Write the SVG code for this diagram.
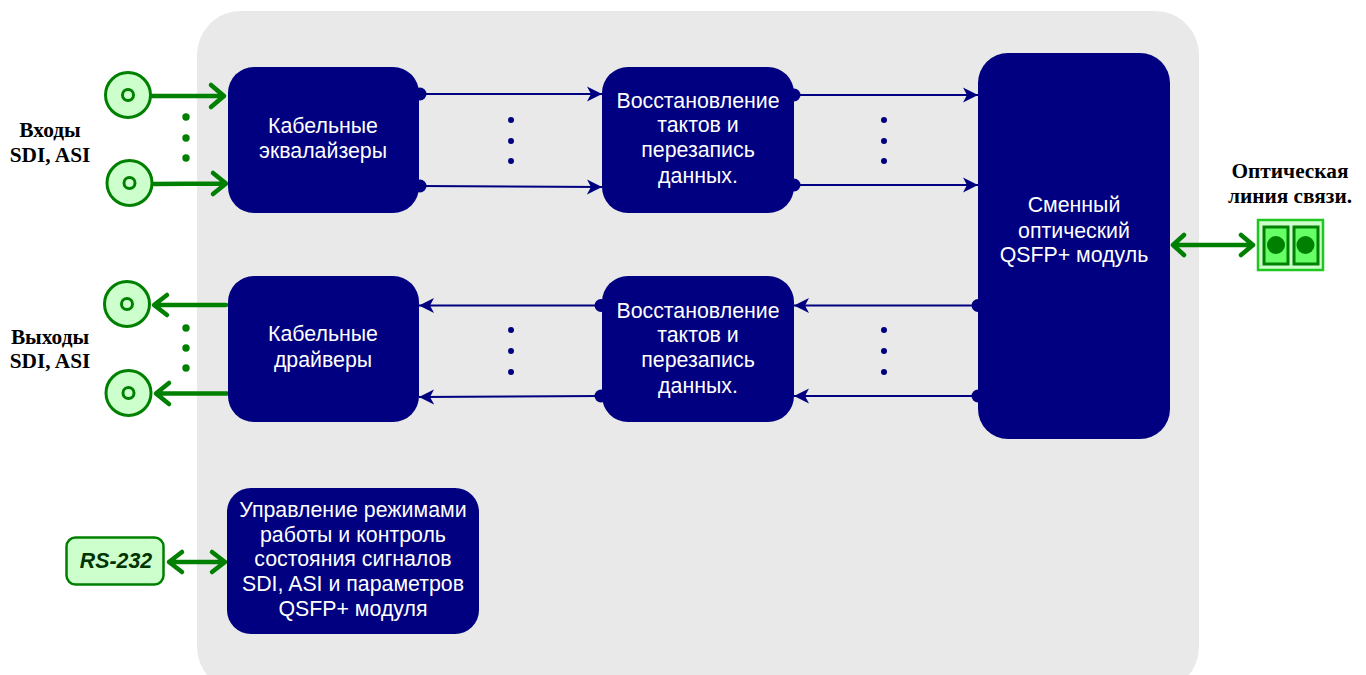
<svg xmlns="http://www.w3.org/2000/svg" width="1366" height="675" viewBox="0 0 1366 675">
<style>
.blk{fill:#000080}
.t{font:21.33px "Liberation Sans",Arial,sans-serif;fill:#fff;text-anchor:middle}
.lab{font:bold 21.33px "Liberation Serif","Times New Roman",serif;fill:#000;text-anchor:middle}
.b{stroke:#000080;stroke-width:2.2;fill:none;marker-end:url(#bh)}
.g{stroke:#008000;stroke-width:4.5;fill:none;stroke-linecap:round;stroke-linejoin:round}
.port{fill:#ccffcc;stroke:#008000;stroke-width:3}
.hole{fill:#ccffcc;stroke:#008000;stroke-width:3}
.gd{fill:#008000}
.bd{fill:#000080}
</style>
<defs>
<marker id="bh" markerUnits="userSpaceOnUse" markerWidth="16" markerHeight="16" refX="15" refY="8" orient="auto">
<path d="M15 8L0 0.5L4 8L0 15.5Z" fill="#000080"/>
</marker>
</defs>
<rect id="board" x="197" y="11" width="1002" height="680" rx="44" ry="44" fill="#e9e9e9"/>
<g id="connectors">
<path class="b" d="M421 94H602"/>
<path class="b" d="M421 186L602 187"/>
<path class="b" d="M795 95H978"/>
<path class="b" d="M795 185H978"/>
<path class="b" d="M977 305.500H794"/>
<path class="b" d="M977 396H794"/>
<path class="b" d="M601 305.500H419"/>
<path class="b" d="M601 396L419 397"/>
<path class="g" d="M151 96H223M211 85L224 96L211 107"/>
<path class="g" d="M152 184L224 183.500M213 173L226 183.500L213 194"/>
<path class="g" d="M226 305H155M167 295L154 305L167 315"/>
<path class="g" d="M227 393.500H157M169 383L156 393.500L169 404"/>
<path class="g" d="M1174 245H1252M1184 235L1173 245L1184 255M1241 235L1253 245L1241 255"/>
<path class="g" d="M169 562H225M182 552L169 562L182 572M212 552L225 562L212 572"/>
</g>
<g id="input-port-1"><circle class="port" cx="128" cy="95" r="22.500"/><circle class="hole" cx="128" cy="95" r="5.500"/></g>
<g id="input-port-2"><circle class="port" cx="129.500" cy="183" r="22.500"/><circle class="hole" cx="129.500" cy="183" r="5.500"/></g>
<g id="output-port-1"><circle class="port" cx="127" cy="304" r="22.500"/><circle class="hole" cx="127" cy="304" r="5.500"/></g>
<g id="output-port-2"><circle class="port" cx="128.500" cy="393" r="22.500"/><circle class="hole" cx="128.500" cy="393" r="5.500"/></g>
<g id="dots">
<circle class="gd" cx="186" cy="117" r="3.700"/><circle class="gd" cx="186" cy="138" r="3.700"/><circle class="gd" cx="186" cy="158" r="3.700"/>
<circle class="gd" cx="186" cy="328" r="3.700"/><circle class="gd" cx="186" cy="348" r="3.700"/><circle class="gd" cx="186" cy="368" r="3.700"/>
<circle class="bd" cx="511" cy="120" r="3"/><circle class="bd" cx="511" cy="141" r="3"/><circle class="bd" cx="511" cy="161" r="3"/>
<circle class="bd" cx="884" cy="120" r="3"/><circle class="bd" cx="884" cy="141" r="3"/><circle class="bd" cx="884" cy="161" r="3"/>
<circle class="bd" cx="511" cy="330" r="3"/><circle class="bd" cx="511" cy="351" r="3"/><circle class="bd" cx="511" cy="372" r="3"/>
<circle class="bd" cx="884" cy="330" r="3"/><circle class="bd" cx="884" cy="351" r="3"/><circle class="bd" cx="884" cy="372" r="3"/>
</g>
<g id="equalizers"><rect class="blk" x="228" y="67" width="191" height="146" rx="26"/><circle class="bd" cx="420" cy="94" r="6.500"/><circle class="bd" cx="420" cy="186" r="6.500"/>
<text class="t"><tspan x="323" y="133">Кабельные</tspan><tspan x="323" y="158">эквалайзеры</tspan></text></g>
<g id="reclock-tx"><rect class="blk" x="602" y="67" width="192" height="146" rx="26"/><circle class="bd" cx="794" cy="95" r="6.500"/><circle class="bd" cx="794" cy="185" r="6.500"/>
<text class="t"><tspan x="698" y="108">Восстановление</tspan><tspan x="698" y="132">тактов и</tspan><tspan x="698" y="157">перезапись</tspan><tspan x="698" y="183">данных.</tspan></text></g>
<g id="qsfp"><rect class="blk" x="978" y="53" width="192" height="386" rx="30"/><circle class="bd" cx="978" cy="305.500" r="6.500"/><circle class="bd" cx="978" cy="396" r="6.500"/>
<text class="t"><tspan x="1074" y="212">Сменный</tspan><tspan x="1074" y="238">оптический</tspan><tspan x="1074" y="262">QSFP+ модуль</tspan></text></g>
<g id="drivers"><rect class="blk" x="228" y="276" width="191" height="146" rx="26"/>
<text class="t"><tspan x="323" y="341">Кабельные</tspan><tspan x="323" y="367">драйверы</tspan></text></g>
<g id="reclock-rx"><rect class="blk" x="602" y="276" width="192" height="146" rx="26"/><circle class="bd" cx="601" cy="305.500" r="6.500"/><circle class="bd" cx="601" cy="396" r="6.500"/>
<text class="t"><tspan x="698" y="318">Восстановление</tspan><tspan x="698" y="342">тактов и</tspan><tspan x="698" y="367">перезапись</tspan><tspan x="698" y="393">данных.</tspan></text></g>
<g id="control"><rect class="blk" x="227" y="488" width="252" height="146" rx="24"/>
<text class="t"><tspan x="353" y="517">Управление режимами</tspan><tspan x="353" y="542">работы и контроль</tspan><tspan x="353" y="566">состояния сигналов</tspan><tspan x="353" y="591">SDI, ASI и параметров</tspan><tspan x="353" y="616">QSFP+ модуля</tspan></text></g>
<g id="rs232"><rect x="66.500" y="537.500" width="97" height="47" rx="9" fill="#ccffcc" stroke="#008000" stroke-width="2.500"/>
<text x="116" y="568" font-family="Liberation Sans, Arial, sans-serif" font-size="21.330" font-weight="bold" font-style="italic" fill="#003300" text-anchor="middle">RS-232</text></g>
<g id="optical-port">
<rect x="1258" y="220" width="65" height="50" fill="#ccffcc" stroke="#1fc71f" stroke-width="2.500"/>
<rect x="1264" y="227" width="24" height="37" fill="#66ff66" stroke="#008000" stroke-width="3"/>
<rect x="1294" y="227" width="24" height="37" fill="#66ff66" stroke="#008000" stroke-width="3"/>
<circle class="gd" cx="1276" cy="245" r="9"/><circle class="gd" cx="1305.500" cy="245" r="9"/>
</g>
<text class="lab"><tspan x="50" y="137">Входы</tspan><tspan x="50" y="162">SDI, ASI</tspan></text>
<text class="lab"><tspan x="50" y="344">Выходы</tspan><tspan x="50" y="368">SDI, ASI</tspan></text>
<text class="lab"><tspan x="1290" y="178">Оптическая</tspan><tspan x="1290" y="203">линия связи.</tspan></text>
</svg>
